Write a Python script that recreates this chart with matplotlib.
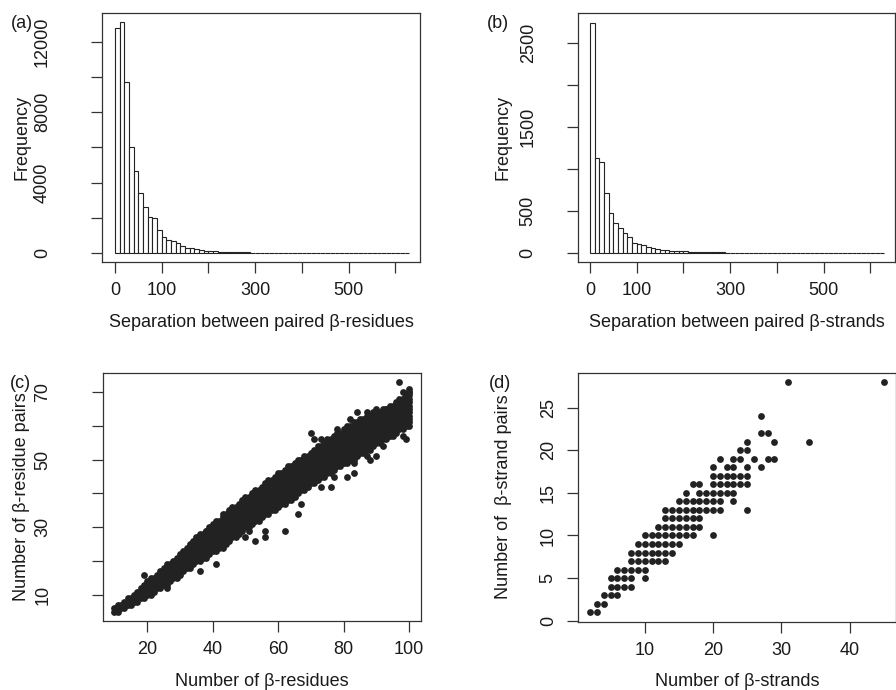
import numpy as np
import matplotlib
matplotlib.use("Agg")
import matplotlib.pyplot as plt

plt.rcParams['font.family'] = ['Liberation Sans', 'DejaVu Sans']

# ---- data ----
bin_width = 10

# (a) separation between paired beta-residues, counts per 10-residue bin
sep_res_counts = [12800, 13100, 9730, 6050, 4680, 3400, 2640, 2040, 1990, 1320,
                  940, 750, 715, 570, 410, 320, 320, 230, 190, 150,
                  150, 130, 100, 100, 80, 90, 70, 70, 50, 40,
                  40, 35, 30, 30, 25, 30, 20, 20, 25, 15,
                  15, 20, 10, 15, 10, 10, 12, 8, 10, 8,
                  6, 8, 5, 6, 5, 4, 5, 3, 4, 3,
                  2, 3, 2]

# (b) separation between paired beta-strands
sep_str_counts = [2745, 1140, 1090, 714, 476, 357, 298, 245, 195, 126,
                  111, 99, 79, 60, 48, 40, 40, 31, 31, 24,
                  24, 20, 18, 16, 15, 13, 12, 10, 10, 9,
                  8, 8, 7, 6, 6, 5, 5, 5, 4, 4,
                  4, 3, 3, 3, 3, 2, 2, 2, 2, 2,
                  2, 1, 1, 2, 1, 1, 1, 1, 1, 1,
                  1, 1, 1]

# (c) number of beta-residues vs residue pairs: dense band, per x the lowest
# and highest filled y, plus scattered points away from the band
res_x = list(range(10, 101))
res_lo = [5, 5, 6, 6, 7, 7, 8, 8, 9, 9, 10, 10, 11, 12, 12, 13, 13, 14, 15, 15,
          16, 17, 18, 18, 19, 20, 20, 21, 21, 22, 23, 23, 24, 24, 25, 26, 27, 27, 28, 29,
          30, 30, 31, 32, 32, 33, 34, 34, 35, 35, 36, 37, 37, 38, 38, 39, 40, 41, 41, 42,
          43, 43, 44, 45, 45, 46, 46, 47, 48, 48, 49, 49, 50, 50, 51, 52, 52, 53, 53, 54,
          55, 55, 56, 56, 57, 57, 58, 59, 59, 60, 60]
res_hi = [6, 7, 7, 8, 9, 9, 10, 11, 12, 13, 14, 15, 15, 16, 17, 18, 19, 19, 20, 21,
          22, 23, 24, 25, 26, 27, 27, 28, 29, 30, 31, 32, 32, 33, 34, 35, 36, 36, 37, 38,
          39, 39, 40, 41, 41, 42, 43, 44, 44, 45, 46, 46, 47, 48, 48, 49, 50, 50, 51, 51,
          52, 53, 54, 54, 55, 56, 56, 57, 58, 58, 59, 60, 60, 61, 61, 62, 62, 63, 63, 64,
          64, 64, 65, 65, 66, 66, 67, 68, 68, 69, 70]
res_out_x = [97, 100, 98, 98, 100, 84, 87, 90, 93, 82, 70, 71, 73, 78, 67, 98, 99,
             92, 90, 87, 88, 83, 81, 83, 77, 76, 73, 67, 66, 62, 56, 53, 56, 50,
             51, 41, 36, 26, 19, 36, 38, 43, 64, 65]
res_out_y = [73, 71, 70, 68, 70, 64, 64, 65, 65, 62, 58, 56, 56, 59, 50, 57, 56,
             54, 51, 51, 50, 49, 45, 46, 45, 42, 42, 37, 34, 29, 29, 26, 27, 27,
             29, 19, 17, 12, 16, 28, 29, 34, 47, 47]

# (d) number of beta-strands vs strand pairs
str_x = [2, 3, 3, 4, 4, 5, 6, 5, 6, 7, 8, 5, 6, 7, 8, 10, 6, 7, 8, 9, 10,
         8, 9, 10, 11, 12, 13, 8, 9, 10, 11, 12, 13, 14, 9, 10, 11, 12, 13, 14, 15,
         10, 11, 12, 13, 14, 15, 16, 17, 20, 12, 13, 14, 15, 16, 17, 18,
         13, 14, 15, 16, 17, 18, 13, 14, 15, 16, 17, 18, 19, 20, 21, 25,
         15, 16, 17, 18, 19, 20, 21, 23, 16, 18, 19, 20, 21, 22, 23,
         17, 18, 20, 21, 22, 23, 24, 25, 20, 21, 22, 23, 24, 25,
         20, 22, 23, 25, 27, 21, 23, 24, 26, 28, 29, 24, 25, 25, 29, 34,
         27, 28, 27, 31, 45]
str_y = [1, 1, 2, 2, 3, 3, 3, 4, 4, 4, 4, 5, 5, 5, 5, 5, 6, 6, 6, 6, 6,
         7, 7, 7, 7, 7, 7, 8, 8, 8, 8, 8, 8, 8, 9, 9, 9, 9, 9, 9, 9,
         10, 10, 10, 10, 10, 10, 10, 10, 10, 11, 11, 11, 11, 11, 11, 11,
         12, 12, 12, 12, 12, 12, 13, 13, 13, 13, 13, 13, 13, 13, 13, 13,
         14, 14, 14, 14, 14, 14, 14, 14, 15, 15, 15, 15, 15, 15, 15,
         16, 16, 16, 16, 16, 16, 16, 16, 17, 17, 17, 17, 17, 17,
         18, 18, 18, 18, 18, 19, 19, 19, 19, 19, 19, 20, 20, 21, 21, 21,
         22, 22, 24, 28, 28]

# ---- layout helpers (pixel positions of the 896x690 reference) ----
W, H = 896, 690
fig = plt.figure(figsize=(W / 100, H / 100), dpi=100)


def box(l, t, r, b):
    return [l / W, 1 - b / H, (r - l) / W, (b - t) / H]


def ftext(x, y, s, **kw):
    fig.text(x / W, 1 - y / H, s, fontsize=13, color='#1a1a1a', **kw)


ink = '#222222'


def style(ax, ypad):
    for sp in ax.spines.values():
        sp.set_linewidth(0.9)
        sp.set_color('#333333')
    ax.tick_params(axis='both', direction='out', length=8, width=0.9,
                   color='#333333', labelsize=13, labelcolor='#1a1a1a')
    ax.tick_params(axis='x', pad=6.5)
    ax.tick_params(axis='y', pad=ypad)


def yticks(ax, ticks, labels):
    ax.set_yticks(ticks)
    ax.set_yticklabels(labels, rotation=90, va='center')


# (a)
ax_a = fig.add_axes(box(102.3, 13, 420, 261.7))
left = np.arange(len(sep_res_counts)) * bin_width
ax_a.bar(left, sep_res_counts, width=bin_width, align='edge',
         facecolor='white', edgecolor=ink, linewidth=0.8)
ax_a.set_xlim(-27, 653)
ax_a.set_ylim(-476, 13627)
ax_a.set_xticks(range(0, 700, 100))
ax_a.set_xticklabels(['0', '100', '', '300', '', '500', ''])
yticks(ax_a, range(0, 14000, 2000), ['0', '', '4000', '', '8000', '', '12000'])
style(ax_a, 29)

# (b)
ax_b = fig.add_axes(box(578.3, 13.3, 895, 262.3))
left = np.arange(len(sep_str_counts)) * bin_width
ax_b.bar(left, sep_str_counts, width=bin_width, align='edge',
         facecolor='white', edgecolor=ink, linewidth=0.8)
ax_b.set_xlim(-25, 653)
ax_b.set_ylim(-107, 2857)
ax_b.set_xticks(range(0, 700, 100))
ax_b.set_xticklabels(['0', '100', '', '300', '', '500', ''])
yticks(ax_b, range(0, 3000, 500), ['0', '500', '', '1500', '', '2500'])
style(ax_b, 22)

# (c)
ax_c = fig.add_axes(box(102.7, 372.7, 421, 621))
cx, cy = [], []
for x, lo, hi in zip(res_x, res_lo, res_hi):
    for y in range(lo, hi + 1):
        cx.append(x)
        cy.append(y)
cx += res_out_x
cy += res_out_y
ax_c.scatter(cx, cy, s=24, color=ink, linewidths=0)
ax_c.set_xlim(6.4, 103.6)
ax_c.set_ylim(2.28, 75.72)
ax_c.set_xticks(range(20, 120, 20))
yticks(ax_c, range(10, 80, 10), ['10', '', '30', '', '50', '', '70'])
style(ax_c, 29)

# (d)
ax_d = fig.add_axes(box(578.3, 372.7, 895.5, 621.5))
ax_d.scatter(str_x, str_y, s=24, color=ink, linewidths=0)
ax_d.set_xlim(0.28, 46.72)
ax_d.set_ylim(-0.08, 29.08)
ax_d.set_xticks([10, 20, 30, 40])
yticks(ax_d, range(0, 30, 5), [str(v) for v in range(0, 30, 5)])
style(ax_d, 7.5)

# labels
ftext(22, 23, '(a)', ha='center', va='center')
ftext(498, 23, '(b)', ha='center', va='center')
ftext(20, 383, '(c)', ha='center', va='center')
ftext(500, 383, '(d)', ha='center', va='center')
ftext(21.7, 137, 'Frequency', rotation=90, ha='center', va='center')
ftext(503, 137, 'Frequency', rotation=90, ha='center', va='center')
ftext(22, 497, 'Number of \u03b2-residue pairs', rotation=90, ha='center', va='center')
ftext(503, 497, 'Number of  \u03b2-strand pairs', rotation=90, ha='center', va='center')
ftext(261, 326.7, 'Separation between paired \u03b2-residues', ha='center', va='baseline')
ftext(737, 326.7, 'Separation between paired \u03b2-strands', ha='center', va='baseline')
ftext(262, 686, 'Number of \u03b2-residues', ha='center', va='baseline')
ftext(737, 686, 'Number of \u03b2-strands', ha='center', va='baseline')

fig.savefig('out.png', dpi=100)
